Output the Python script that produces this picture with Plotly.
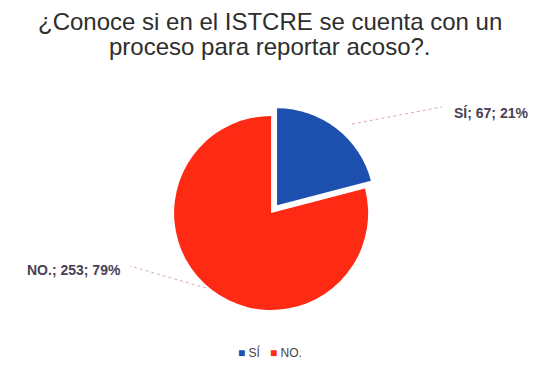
import plotly.graph_objects as go

# Survey answers
categories = ["SÍ", "NO."]
counts = [67, 253]
colors = ["#1d4fae", "#ff2a14"]
pulls = [0.1, 0.0]

title_lines = ["¿Conoce si en el ISTCRE se cuenta con un", "proceso para reportar acoso?."]

total = sum(counts)
pcts = [round(100 * c / total) for c in counts]

W, H = 539, 378

fig = go.Figure(go.Pie(
    labels=categories,
    values=counts,
    marker=dict(colors=colors, line=dict(color="white", width=0)),
    pull=pulls,
    sort=False,
    direction="clockwise",
    rotation=0,
    textinfo="none",
    hoverinfo="label+value+percent",
    domain=dict(x=[0.305, 0.701], y=[0.154, 0.719]),
    showlegend=False,
))


def px(x, y):
    """Pixel position -> paper fraction."""
    return x / W, 1 - y / H


# Title, one annotation per line for tight line spacing
for line, yc in zip(title_lines, [22, 47]):
    tx, ty = px(W / 2, yc)
    fig.add_annotation(
        xref="paper", yref="paper", x=tx, y=ty,
        xanchor="center", yanchor="middle", showarrow=False,
        text=line,
        font=dict(family="Liberation Sans", size=24, color="#2e2e2e"),
    )

# Outside labels with leader lines
label_specs = [
    ((352, 124), (442, 107), (452, 113), "left"),
    ((206, 288), (130, 266), (123, 270), "right"),
]
for i, (p0, p1, pt, xa) in enumerate(label_specs):
    x0, y0 = px(*p0)
    x1, y1 = px(*p1)
    fig.add_shape(type="line", xref="paper", yref="paper",
                  x0=x0, y0=y0, x1=x1, y1=y1,
                  line=dict(color="#d9a7bf", width=1, dash="dot"))
    tx, ty = px(*pt)
    fig.add_annotation(
        xref="paper", yref="paper", x=tx, y=ty,
        xanchor=xa, yanchor="middle", showarrow=False,
        text=f"<b>{categories[i]}; {counts[i]}; {pcts[i]}%</b>",
        font=dict(family="Liberation Sans", size=14, color="#4a3f55"),
    )

# Legend row: small coloured markers followed by category names
legend_text = "   ".join(
    f"<span style='color:{c}'>■</span> {name}" for name, c in zip(categories, colors)
)
lx, ly = px(W / 2, 352)
fig.add_annotation(
    xref="paper", yref="paper", x=lx, y=ly,
    xanchor="center", yanchor="middle", showarrow=False,
    text=legend_text,
    font=dict(family="Liberation Sans", size=12, color="#444444"),
)

fig.update_layout(
    width=W, height=H,
    margin=dict(l=0, r=0, t=0, b=0),
    paper_bgcolor="white",
    plot_bgcolor="white",
    showlegend=False,
)

fig.write_html("out.html")
